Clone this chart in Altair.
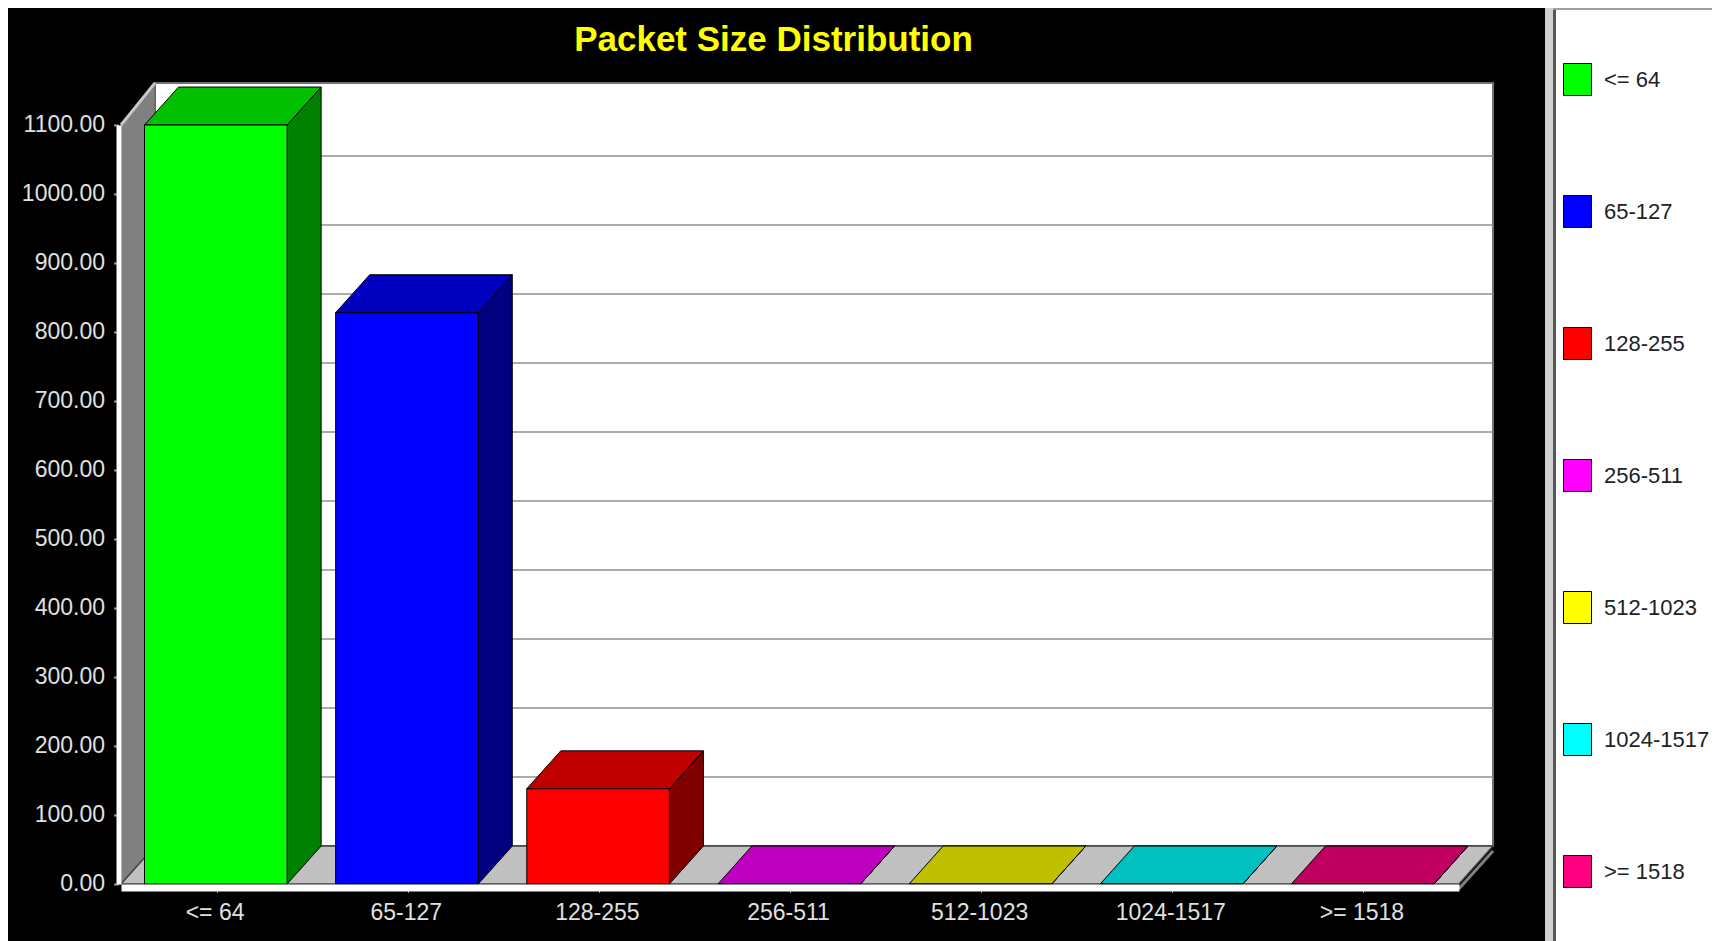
import json
import altair as alt
import pandas as pd

categories = ["<= 64", "65-127", "128-255", "256-511", "512-1023", "1024-1517", ">= 1518"]
values = [1100, 828, 138, 0, 0, 0, 0]
front_colors = ["#00ff00", "#0000ff", "#ff0000", "#ff00ff", "#ffff00", "#00ffff", "#ff0080"]
top_colors = ["#00c000", "#0000c0", "#c00000", "#c000c0", "#c0c000", "#00c0c0", "#c00060"]
side_colors = ["#008000", "#000080", "#800000", "#800080", "#808000", "#008080", "#800040"]
y_ticks = list(range(0, 1101, 100))
chart_title = ["Packet Size Distribution"]

DX = 0.178   # depth of the 3D box in category slots
DY = 55      # depth of the 3D box in value units
WALL_EXTRA = 6  # the back wall rises slightly above the top tick
INSET_L = 0.123
INSET_R = 0.131
N = len(categories)
YMAX = 1100
FONT = "Liberation Sans"

xs = alt.Scale(domain=[0, N], nice=False, zero=False)
ys = alt.Scale(domain=[0, YMAX], nice=False, zero=False)

x_axis = alt.Axis(
    values=[i + 0.5 for i in range(N)],
    labelExpr=json.dumps(categories) + "[floor(datum.value)]",
    grid=False, offset=3.5, domainColor="#ffffff", domainWidth=7,
    tickColor="#999999", tickSize=5, tickWidth=1,
    labelColor="#e0e0e0", labelFont=FONT, labelFontSize=23,
    labelPadding=9, labelOffset=-2, labelFlush=False, labelOverlap=False, zindex=1,
)
y_axis = alt.Axis(
    values=y_ticks, format=".2f", grid=False, offset=2.5,
    domainColor="#ffffff", domainWidth=5,
    tickColor="#999999", tickSize=5, tickWidth=2,
    labelColor="#e0e0e0", labelFont=FONT, labelFontSize=23,
    labelPadding=9, labelOffset=-1, labelOverlap=False, zindex=1,
)

front = pd.DataFrame([
    {"category": c, "x0": i + INSET_L, "x1": i + 1 - INSET_R, "y0": 0, "y1": v}
    for i, (c, v) in enumerate(zip(categories, values))
])

top_rows, side_rows = [], []
for i, (v, tc, sc) in enumerate(zip(values, top_colors, side_colors)):
    a, b = i + INSET_L, i + 1 - INSET_R
    top_rows += [
        {"fillc": tc, "y": v, "x0": a, "x1": b},
        {"fillc": tc, "y": v + DY, "x0": a + DX, "x1": b + DX},
    ]
    side_rows += [
        {"fillc": sc, "x": b, "y0": 0, "y1": v},
        {"fillc": sc, "x": b + DX, "y0": DY, "y1": v + DY},
    ]
top_df = pd.DataFrame(top_rows)
side_df = pd.DataFrame(side_rows)


def X(f):
    return alt.X(f, type="quantitative", scale=xs, axis=x_axis, title=None)


def Y(f):
    return alt.Y(f, type="quantitative", scale=ys, axis=y_axis, title=None)


WALL_TOP = YMAX + DY + WALL_EXTRA

wall_back = alt.Chart(pd.DataFrame({"a": [DX], "b": [N + DX], "c": [DY], "d": [WALL_TOP]})).mark_rect(
    fill="#ffffff", stroke="#707070", strokeWidth=2
).encode(x=X("a"), x2="b", y=Y("c"), y2="d")

grid = alt.Chart(pd.DataFrame({"t": [t + DY for t in y_ticks[1:-1]], "a": DX, "b": N + DX})).mark_rule(
    color="#909090", strokeWidth=1.5
).encode(x=X("a"), x2="b", y=Y("t"))

wall_left = alt.Chart(pd.DataFrame({"x": [0, DX], "y0": [0, DY], "y1": [YMAX, WALL_TOP]})).mark_area(
    fill="#808080", stroke="#606060", strokeWidth=1
).encode(x=X("x"), y=Y("y1"), y2="y0")

left_edge = alt.Chart(pd.DataFrame({"a": [0], "b": [DX], "c": [YMAX], "d": [WALL_TOP]})).mark_rule(
    color="#c8c8c8", strokeWidth=3
).encode(x=X("a"), x2="b", y=Y("c"), y2="d")

floor = alt.Chart(pd.DataFrame({"y": [0, DY], "x0": [0, DX], "x1": [N, N + DX]})).mark_area(
    orient="horizontal", fill="#c0c0c0", stroke="#404040", strokeWidth=1.5
).encode(y=Y("y"), x=X("x0"), x2="x1")

floor_edge = alt.Chart(pd.DataFrame({"a": [N], "b": [N + DX], "c": [-7], "d": [DY - 7]})).mark_rule(
    color="#808080", strokeWidth=3
).encode(x=X("a"), x2="b", y=Y("c"), y2="d")

tops = alt.Chart(top_df).mark_area(orient="horizontal", stroke="#000000", strokeWidth=1).encode(
    y=Y("y"), x=X("x0"), x2="x1", fill=alt.Fill("fillc:N", scale=None, legend=None)
)

sides = alt.Chart(side_df).mark_area(stroke="#000000", strokeWidth=1).encode(
    x=X("x"), y=Y("y1"), y2="y0", fill=alt.Fill("fillc:N", scale=None, legend=None)
)

bars = alt.Chart(front).mark_rect(stroke="#000000", strokeWidth=1).encode(
    x=X("x0"), x2="x1", y=Y("y0"), y2="y1",
    color=alt.Color(
        "category:N",
        scale=alt.Scale(domain=categories, range=front_colors),
        sort=categories,
        legend=alt.Legend(
            title=None, orient="none", legendX=1440, legendY=-62, padding=0,
            symbolType="M-0.875,-1H0.875V1H-0.875Z", symbolSize=1024,
            symbolStrokeColor="#000000", symbolStrokeWidth=1, symbolOpacity=1,
            labelFont=FONT, labelFontSize=22, labelColor="#222222",
            labelOffset=10, rowPadding=95, labelLimit=200,
        ),
    ),
)

one = pd.DataFrame({"k": [0]})
panel_sep = alt.Chart(one).mark_rect(fill="#d0d0d0").encode(
    x=alt.value(1424), x2=alt.value(1432), y=alt.value(-125), y2=alt.value(816)
)
panel_line = alt.Chart(one).mark_rect(fill="#555555").encode(
    x=alt.value(1432), x2=alt.value(1435), y=alt.value(-120), y2=alt.value(816)
)
panel = alt.Chart(one).mark_rect(fill="#ffffff").encode(
    x=alt.value(1435), x2=alt.value(1600), y=alt.value(-125), y2=alt.value(816)
)
panel_top = alt.Chart(one).mark_rect(fill="#a0a0a0").encode(
    x=alt.value(1432), x2=alt.value(1600), y=alt.value(-117), y2=alt.value(-115)
)
title_text = alt.Chart(pd.DataFrame({"t": chart_title})).mark_text(
    color="#ffff00", font=FONT, fontSize=35, fontWeight="bold", align="center", baseline="middle"
).encode(text="t:N", x=alt.value(652.5), y=alt.value(-85))

chart = alt.layer(
    wall_back, grid, wall_left, left_edge, floor, floor_edge,
    sides, tops, bars, panel_sep, panel_line, panel, panel_top, title_text,
).resolve_scale(color="independent").properties(
    width=1338,
    height=759,
    background="#000000",
    padding={"left": 113, "top": 117, "right": 253, "bottom": 57},
    autosize=alt.AutoSizeParams(type="none"),
).configure_view(stroke=None)

chart.save("out.html", embed_options={"renderer": "svg", "actions": False})
